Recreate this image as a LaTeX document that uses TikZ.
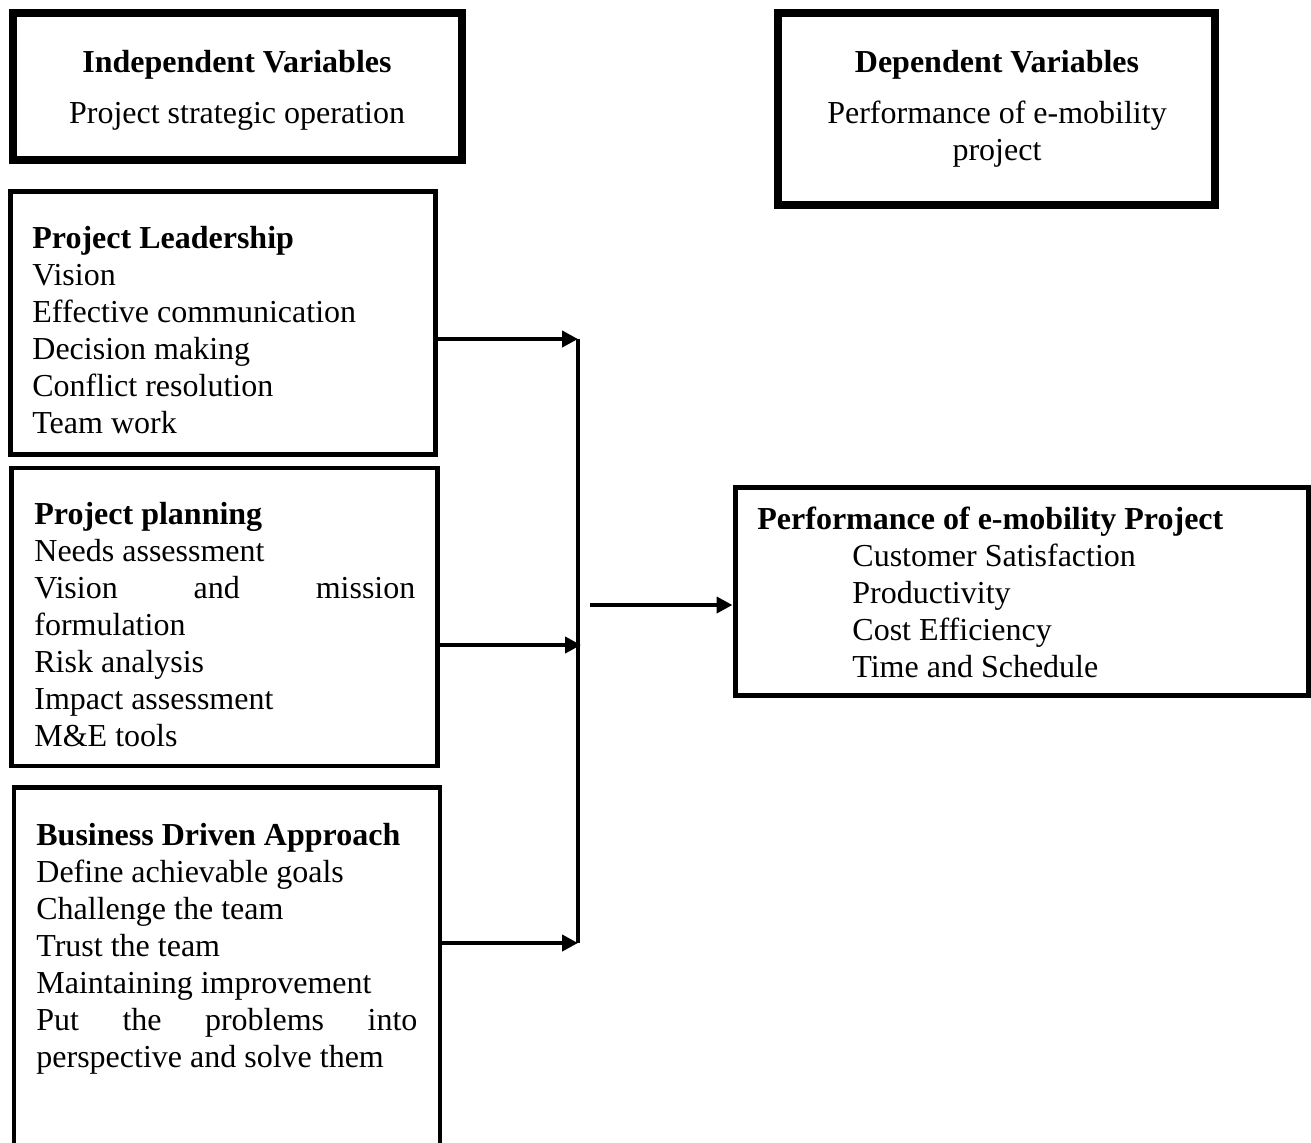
\documentclass[tikz,border=0pt]{standalone}
\usepackage{fontspec}
\setmainfont{Liberation Serif}
\usetikzlibrary{arrows.meta,fit}
\begin{document}
\begin{tikzpicture}[x=0.5pt,y=-0.5pt,
  heavybox/.style={draw, line width=4pt, inner sep=0pt},
  itembox/.style={draw, line width=2.25pt, inner sep=0pt},
  txt/.style={inner sep=0pt, anchor=base west, font=\fontsize{16pt}{18.5pt}\selectfont},
  ctxt/.style={inner sep=0pt, anchor=base, font=\fontsize{16pt}{18.5pt}\selectfont},
  conn/.style={line width=2pt},
  arr/.style={line width=2pt, -{Triangle[length=8pt,width=8pt]}}]
\useasboundingbox (0,0) rectangle (1311,1142);
\clip (0,0) rectangle (1311,1142);

% header boxes
\node[heavybox, fit={(12.5,13) (462,160)}] (b1) {};
\node[ctxt] (b1t) at (237,72) {\textbf{Independent Variables}};
\node[ctxt] (b1s) at (237,123) {Project strategic operation};

\node[heavybox, fit={(777.5,13) (1215,205)}] (b2) {};
\node[ctxt] (b2t) at (997,72) {\textbf{Dependent Variables}};
\node[ctxt] (b2s) at (997,123) {\parbox[t]{200pt}{\centering Performance of e-mobility\\project}};

% independent variable boxes
\node[itembox, fit={(10.5,191.5) (435.5,454.5)}] (b3) {};
\node[txt] (b3t) at (32,248) {\parbox[t]{200pt}{\raggedright\textbf{Project Leadership}\\Vision\\Effective communication\\Decision making\\Conflict resolution\\Team work}};

\node[itembox, fit={(11.5,468) (437.5,766)}] (b4) {};
\node[txt] (b4t) at (34,524) {\parbox[t]{190.5pt}{\raggedright\textbf{Project planning}\\Needs assessment\\Vision\hfill and\hfill mission\\formulation\\Risk analysis\\Impact assessment\\M\&E tools}};

\node[itembox, fit={(14,787.5) (440,1175)}] (b5) {};
\node[txt] (b5t) at (36,845) {\parbox[t]{190.5pt}{\raggedright\textbf{Business Driven Approach}\\Define achievable goals\\Challenge the team\\Trust the team\\Maintaining improvement\\Put\hfill the\hfill problems\hfill into\\perspective and solve them}};

% dependent variable box
\node[itembox, line width=2.5pt, fit={(735,487) (1308.5,695)}] (rb) {};
\node[txt] (rbt) at (757,529) {\textbf{Performance of e-mobility Project}};
\node[txt] (rbi) at (852,566) {\parbox[t]{200pt}{\raggedright Customer Satisfaction\\Productivity\\Cost Efficiency\\Time and Schedule}};

% connectors
\coordinate (top) at (578,339);
\coordinate (mid) at (581,645);
\coordinate (bot) at (578,943);
\coordinate (src) at (590,605);

\draw[conn] (top) -- (bot);
\draw[arr] (b3.east |- top) -- (top);
\draw[arr] (b4.east |- mid) -- (mid);
\draw[arr] (b5.east |- bot) -- (bot);
\draw[arr] (src) -- (rb.west |- src);
\end{tikzpicture}
\end{document}
